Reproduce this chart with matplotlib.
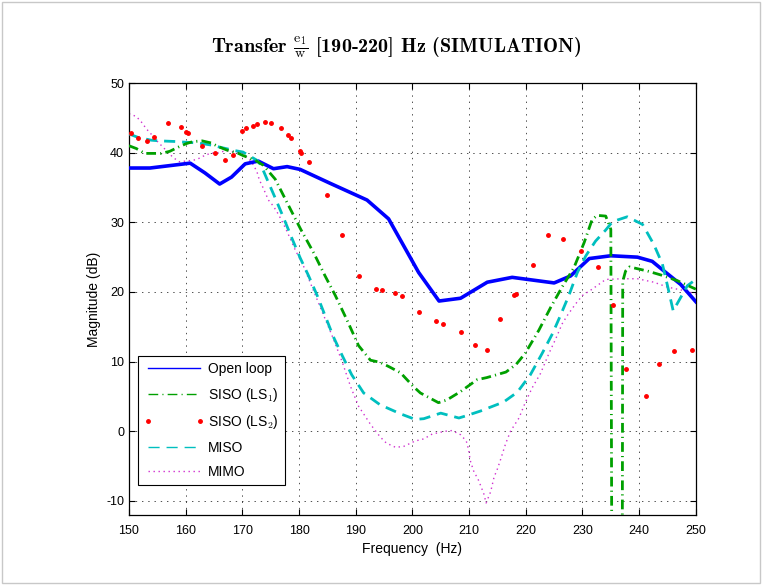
"""
Transfer e1/w [190-220] Hz (simulation) - magnitude of the five controller variants.
Values are read off the original MATLAB figure.
"""

import matplotlib
matplotlib.use("Agg")
import matplotlib.pyplot as plt
from matplotlib.lines import Line2D
from matplotlib.patches import Rectangle

plt.rcParams["font.family"] = ["Liberation Sans", "DejaVu Sans"]
plt.rcParams["mathtext.fontset"] = "cm"
plt.rcParams["lines.scale_dashes"] = False
plt.rcParams["axes.unicode_minus"] = False

# --- data (frequency in Hz, magnitude in dB) ---
open_f = [150, 153.7, 160.8, 163.4, 166.0, 168.1, 170.5, 172.8, 175.5, 177.9,
          180.2, 185.5, 192.0, 195.8, 201.1, 204.7, 208.5, 213.2, 217.6, 225.0,
          227.9, 231.2, 235.0, 239.7, 242.3, 244.4, 247.3, 250]
open_db = [37.8, 37.8, 38.5, 37.1, 35.5, 36.5, 38.4, 38.8, 37.7, 38.0,
           37.6, 35.6, 33.2, 30.5, 22.8, 18.7, 19.1, 21.4, 22.1, 21.3,
           22.3, 24.8, 25.2, 25.0, 24.4, 23.0, 21.1, 18.6]

siso1_f = [150, 151.3, 152.8, 154.2, 155.7, 157.2, 158.7, 160.1, 161.3, 162.9,
           164.5, 165.7, 167.2, 169.3, 170.1, 172.3, 173.7, 175.8, 178.1, 180.3,
           182.6, 184.6, 186.4, 188.5, 190.5, 192.6, 194.3, 195.8, 197.9, 200.2,
           201.4, 204.6, 206.1, 208.5, 211.4, 213.1, 216.5, 218.3, 219.9, 222.3,
           224.4, 226.4, 228.5, 230.3, 231.7, 232.6, 234.1, 235.0, 235.4, 236.9,
           237.1, 237.6, 238.3, 241.5, 244.0, 246.8, 250]
siso1_db = [41.0, 40.6, 39.9, 39.9, 39.9, 40.2, 40.8, 41.3, 41.6, 41.7,
            41.4, 40.9, 40.4, 39.9, 39.6, 38.9, 38.2, 36.2, 32.5, 29.0,
            25.6, 22.3, 19.5, 15.9, 12.3, 10.2, 9.9, 9.3, 8.4, 6.4,
            5.5, 4.1, 4.5, 5.7, 7.4, 7.7, 8.5, 9.6, 11.2, 14.5,
            17.8, 20.7, 23.5, 27.1, 30.4, 31.0, 30.9, 29.0, -80, -80,
            21.5, 23.0, 23.6, 23.0, 22.4, 21.6, 20.4]

siso2_f = [150.4, 151.6, 153.2, 154.5, 156.9, 159.2, 160.1, 160.4, 162.9, 165.1,
           166.9, 168.4, 169.9, 170.6, 171.8, 172.6, 174.0, 175.1, 176.8, 178.0,
           178.5, 180.2, 180.4, 181.7, 185.0, 187.6, 190.6, 193.6, 194.6, 197.0,
           198.2, 201.1, 204.1, 205.4, 208.5, 211.1, 213.2, 215.4, 218.0, 218.2,
           221.3, 223.9, 226.6, 229.7, 232.7, 235.3, 237.6, 241.2, 243.5, 246.2,
           249.4]
siso2_db = [42.8, 42.1, 41.7, 42.2, 44.3, 43.7, 43.0, 42.8, 41.0, 39.9,
            38.9, 39.6, 43.1, 43.5, 43.9, 44.1, 44.4, 44.3, 43.5, 42.5,
            42.1, 40.3, 40.0, 38.7, 33.9, 28.2, 22.3, 20.4, 20.3, 19.9,
            19.4, 17.1, 15.8, 15.4, 14.3, 12.4, 11.6, 16.1, 19.5, 19.7,
            23.9, 28.2, 27.6, 25.9, 23.6, 18.1, 9.0, 5.1, 9.7, 11.5,
            11.6]

miso_f = [150, 151.6, 153.9, 155.4, 158.4, 160.1, 162.2, 164.5, 166.0, 168.7,
          170.1, 172.6, 173.3, 174.3, 175.8, 177.3, 178.7, 180.2, 181.7, 183.2,
          184.6, 186.1, 187.6, 189.3, 191.4, 194.3, 197.9, 200.5, 202.0, 205.0,
          208.2, 209.4, 212.0, 216.1, 218.5, 220.8, 222.9, 224.7, 226.1, 227.6,
          229.1, 230.6, 232.3, 234.1, 235.3, 237.9, 240.6, 242.6, 244.1, 245.0,
          246.0, 248.5, 250]
miso_db = [42.7, 42.2, 41.8, 41.7, 41.6, 41.5, 41.4, 41.1, 40.8, 40.3,
           40.1, 38.9, 38.2, 36.3, 33.5, 30.6, 27.8, 24.9, 22.3, 19.5,
           16.6, 13.5, 10.9, 8.1, 5.5, 3.8, 2.5, 1.7, 1.8, 2.6,
           1.9, 2.2, 2.9, 4.2, 5.6, 8.1, 11.2, 14.0, 16.6, 19.5,
           22.8, 25.2, 27.3, 28.9, 30.1, 30.8, 29.7, 26.8, 24.0, 20.9,
           17.3, 20.9, 21.8]

mimo_f = [150, 151.3, 152.2, 153.1, 154.0, 154.8, 156.0, 157.8, 158.9, 160.1,
          161.9, 163.1, 164.3, 165.7, 167.2, 169.9, 171.1, 172.0, 172.6, 173.0,
          173.7, 174.6, 175.5, 176.4, 177.6, 179.3, 180.8, 182.3, 184.0, 185.8,
          187.6, 189.1, 190.5, 192.6, 194.3, 195.4, 197.0, 198.4, 200.5, 202.0,
          203.5, 205.8, 207.0, 208.5, 209.5, 209.9, 210.2, 210.8, 211.7, 212.6,
          213.0, 213.8, 214.4, 215.0, 215.5, 216.4, 217.3, 218.8, 219.9, 221.1,
          222.6, 224.1, 225.3, 226.4, 227.3, 228.8, 230.0, 231.7, 234.1, 237.0,
          239.7, 242.6, 245.0, 247.9, 250]
mimo_db = [45.6, 45.2, 44.4, 43.4, 42.6, 41.8, 40.8, 39.3, 38.7, 38.8,
           39.0, 39.5, 39.9, 40.0, 40.3, 39.9, 39.2, 38.2, 37.2, 36.1,
           34.9, 33.2, 32.3, 31.1, 29.2, 26.1, 23.7, 20.7, 17.3, 13.8,
           10.0, 6.4, 3.6, 1.0, -0.8, -1.7, -2.3, -2.2, -1.4, -1.1,
           -0.4, 0.0, 0.1, -0.5, -1.4, -2.6, -4.2, -5.7, -7.1, -9.0,
           -10.3, -8.7, -6.6, -5.4, -4.2, -1.9, 0.0, 1.9, 4.1, 6.2,
           8.3, 11.2, 13.3, 15.4, 16.6, 18.3, 19.5, 20.4, 21.8, 21.9,
           21.9, 21.4, 20.7, 20.2, 19.7]

x_ticks = [150, 160, 170, 180, 190, 200, 210, 220, 230, 240, 250]
y_ticks = [-10, 0, 10, 20, 30, 40, 50]

# --- styles ---
BLUE = "#0000ff"
GREEN = "#00a000"
RED = "#ff0000"
CYAN = "#00bfbf"
MAGENTA = "#d030d0"
DASHDOT = (0, (7, 3, 0.8, 3))
DASHED = (0, (8, 5))
DOTTED = (0, (1, 2.6))


def main():
    fig = plt.figure(figsize=(7.63, 5.85), dpi=100)
    ax = fig.add_axes([0.169, 0.120, 0.743, 0.738])

    ax.plot(open_f, open_db, color=BLUE, lw=2.6, zorder=3)
    ax.plot(siso1_f, siso1_db, color=GREEN, lw=2.0, linestyle=DASHDOT, zorder=4)
    ax.plot(siso2_f, siso2_db, color=RED, linestyle="none", marker=".",
            markersize=5, zorder=5)
    ax.plot(miso_f, miso_db, color=CYAN, lw=2.0, linestyle=DASHED, zorder=3)
    ax.plot(mimo_f, mimo_db, color=MAGENTA, lw=1.0, linestyle=DOTTED, zorder=2)

    ax.set_xlim(150, 250)
    ax.set_ylim(-12, 50)
    ax.set_xticks(x_ticks)
    ax.set_yticks(y_ticks)
    ax.tick_params(direction="in", length=4, width=0.8, top=True, right=True,
                   labelsize=9)
    ax.tick_params(axis="x", pad=7)
    ax.grid(True, color="black", linestyle=(0, (1, 3.5)), linewidth=0.6, alpha=0.8)
    for sp in ax.spines.values():
        sp.set_linewidth(0.9)

    ax.set_xlabel("Frequency  (Hz)", fontsize=10)
    ax.set_ylabel("Magnitude (dB)", fontsize=10)

    fig.text(0.519, 0.919,
             r"Transfer $\frac{\mathrm{e}_1}{\mathrm{w}}$ [190-220] Hz (SIMULATION)",
             ha="center", va="center", fontsize=14.5, family=["cmb10", "DejaVu Serif"])

    handles = [
        Line2D([], [], color=BLUE, lw=1.0),
        Line2D([], [], color=GREEN, lw=1.0, linestyle=DASHDOT),
        Line2D([], [], color=RED, linestyle="none", marker=".", markersize=5),
        Line2D([], [], color=CYAN, lw=1.0, linestyle=DASHED),
        Line2D([], [], color=MAGENTA, lw=1.0, linestyle=DOTTED),
    ]
    labels = ["Open loop", r"SISO (LS$_1$)", r"SISO (LS$_2$)", "MISO", "MIMO"]
    leg = ax.legend(handles, labels, loc="lower left",
                    bbox_to_anchor=(0.016, 0.069), borderaxespad=0,
                    fontsize=10, numpoints=2, handlelength=4.3,
                    handletextpad=0.3, fancybox=False, framealpha=1,
                    edgecolor="black", labelspacing=0.7, borderpad=0.45)
    leg.get_frame().set_linewidth(0.8)
    leg.set_zorder(10)

    fig.patches.append(Rectangle((0.002, 0.004), 0.994, 0.992,
                                 transform=fig.transFigure, fill=False,
                                 edgecolor="#c8c8c8", lw=1.0))

    fig.savefig("out.png", dpi=100)


if __name__ == "__main__":
    main()
